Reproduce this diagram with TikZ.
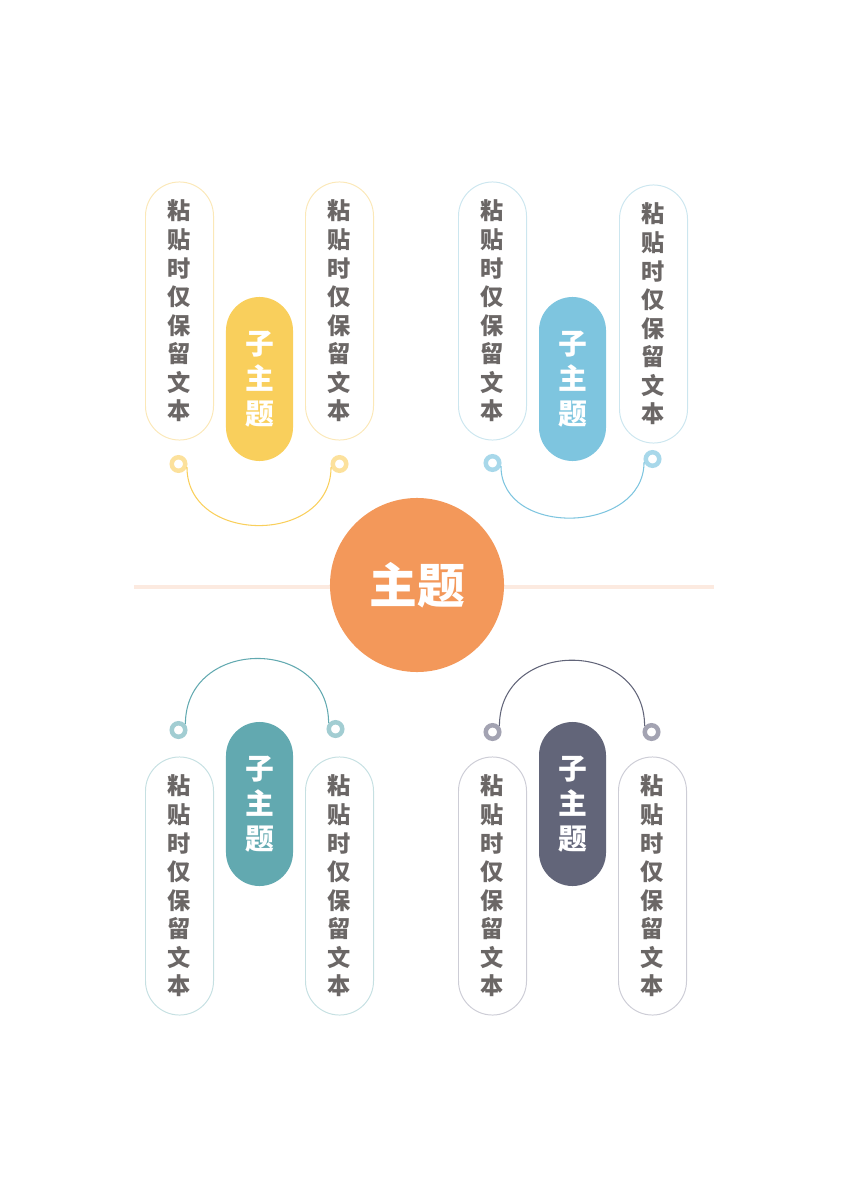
\documentclass[tikz,border=0pt]{standalone}
\usepackage{fontspec}
\newfontfamily\cjk{Noto Sans CJK SC}
\usetikzlibrary{positioning}
\definecolor{topicorange}{HTML}{F3985A}
\definecolor{barpeach}{HTML}{FCEAE0}
\definecolor{textgray}{HTML}{6B6766}
\definecolor{subyellow}{HTML}{F9CF5C}
\definecolor{subblue}{HTML}{7EC5DF}
\definecolor{subteal}{HTML}{62A9B0}
\definecolor{subslate}{HTML}{626579}
\definecolor{lineyellow}{HTML}{FBE8B8}
\definecolor{lineblue}{HTML}{CCE6EF}
\definecolor{lineteal}{HTML}{C6E0E2}
\definecolor{lineslate}{HTML}{CDCDD6}
\definecolor{ringyellow}{HTML}{FCE19C}
\definecolor{ringblue}{HTML}{A8D8EA}
\definecolor{ringteal}{HTML}{A2CDD2}
\definecolor{ringslate}{HTML}{A3A3B2}
\providecommand\pastetext{粘\\贴\\时\\仅\\保\\留\\文\\本}
\providecommand\subtext{子\\主\\题}

\begin{document}
\begin{tikzpicture}[x = 0.025cm, y = 0.025cm,
        pill/.style = {rectangle, draw = #1, line width = 0.7pt,
            rounded corners = 0.85cm, minimum width = 1.7cm, minimum height = 6.45cm,
            inner sep = 0pt, align = center, text = textgray,
            font = \cjk\bfseries\fontsize{16.5}{20.3}\selectfont},
        subpill/.style = {rectangle, fill = #1, rounded corners = 0.84cm,
            minimum width = 1.675cm, minimum height = 4.1cm,
            inner sep = 0pt, align = center, text = white,
            font = \cjk\bfseries\fontsize{20.5}{25}\selectfont},
        ring/.style = {circle, draw = #1, line width = 0.1125cm,
            minimum size = 0.3375cm, inner sep = 0pt},
        link/.style = {draw = #1, line width = 0.75pt},
    ]
    \useasboundingbox (0,0) rectangle (848,-1200);

    %\draw[help lines, opacity = 0.1] (0,-1200) grid[step = 100] (848,0);

    \coordinate (barL) at (134,-587);
    \coordinate (barR) at (714,-587);
    \draw[barpeach, line width = 0.1cm] (barL) -- (barR);

    \node (topic) at (417,-585) [circle, fill = topicorange, minimum size = 4.35cm,
        inner sep = 0pt, text = white, font = \cjk\bfseries\fontsize{34}{40}\selectfont] {主题};

    \begin{scope}[on grid]
        \node (sub1) at (259.5,-379) [subpill = subyellow] {\subtext};

        \node (L1) [pill = lineyellow, above left = 68 and 80 of sub1] {\pastetext};
        \node (R1) [pill = lineyellow, above right = 68 and 80 of sub1] {\pastetext};

        \node (rL1) [ring = ringyellow, below left = 85 and 81 of sub1] {};
        \node (rR1) [ring = ringyellow, below right = 85 and 80 of sub1] {};

        \draw[link = subyellow] (rL1.-20) .. controls +(0,-78) and +(0,-78) .. (rR1.200);
    \end{scope}

    \begin{scope}[on grid]
        \node (sub2) at (572.5,-379) [subpill = subblue] {\subtext};

        \node (L2) [pill = lineblue, above left = 68 and 80 of sub2] {\pastetext};
        \node (R2) [pill = lineblue, above right = 65 and 81 of sub2] {\pastetext};

        \node (rL2) [ring = ringblue, below left = 84 and 80 of sub2] {};
        \node (rR2) [ring = ringblue, below right = 80 and 80 of sub2] {};

        \draw[link = subblue] (rL2.-20) .. controls +(0,-72) and +(0,-72) .. (rR2.200);
    \end{scope}

    \begin{scope}[on grid]
        \node (sub3) at (259.5,-804) [subpill = subteal] {\subtext};

        \node (L3) [pill = lineteal, below left = 82 and 80 of sub3] {\pastetext};
        \node (R3) [pill = lineteal, below right = 82 and 80 of sub3] {\pastetext};

        \node (rL3) [ring = ringteal, above left = 74 and 81 of sub3] {};
        \node (rR3) [ring = ringteal, above right = 75 and 76 of sub3] {};

        \draw[link = subteal] (rL3.40) .. controls +(0,87) and +(0,87) .. (rR3.140);
    \end{scope}

    \begin{scope}[on grid]
        \node (sub4) at (572.5,-804) [subpill = subslate] {\subtext};

        \node (L4) [pill = lineslate, below left = 82 and 80 of sub4] {\pastetext};
        \node (R4) [pill = lineslate, below right = 82 and 80 of sub4] {\pastetext};

        \node (rL4) [ring = ringslate, above left = 72 and 80 of sub4] {};
        \node (rR4) [ring = ringslate, above right = 72 and 79 of sub4] {};

        \draw[link = subslate] (rL4.40) .. controls +(0,88) and +(0,88) .. (rR4.140);
    \end{scope}

\end{tikzpicture}
\end{document}
